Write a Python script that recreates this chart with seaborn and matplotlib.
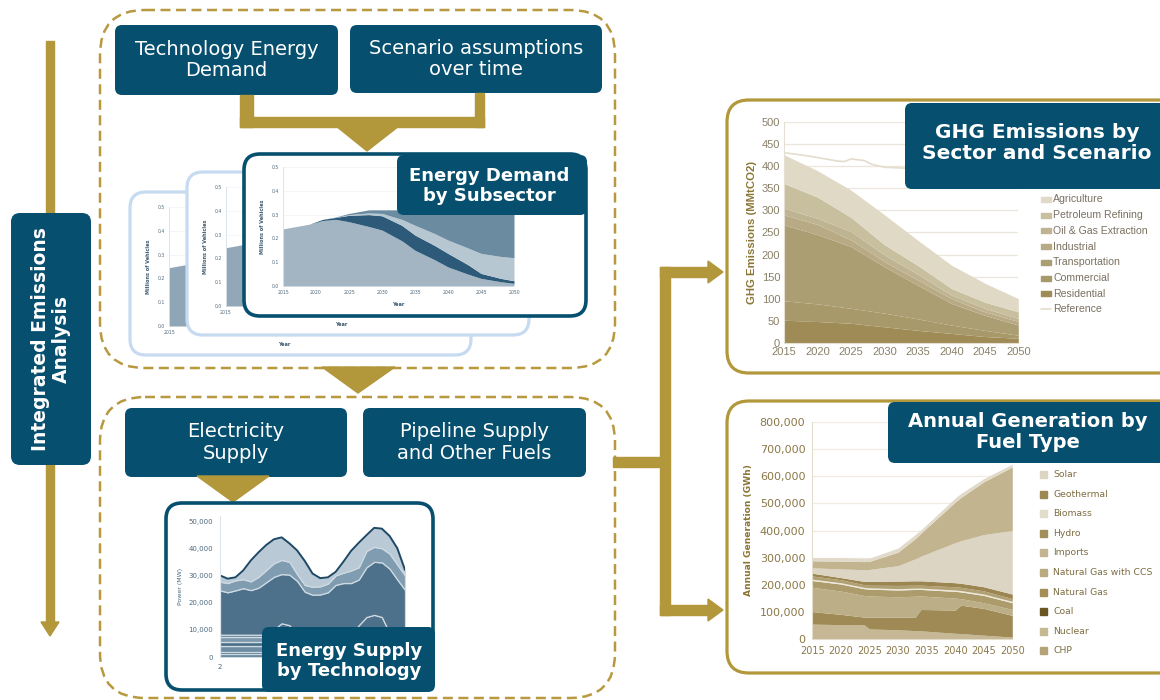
import numpy as np
import matplotlib
matplotlib.use("Agg")
import matplotlib.pyplot as plt
import seaborn as sns
from matplotlib.patches import FancyBboxPatch, Polygon, Rectangle
from matplotlib.ticker import FuncFormatter

# -----------------------------
# data
# -----------------------------
# energy demand by subsector (front card), millions of vehicles
dem_years = [2015, 2017, 2019, 2021, 2023, 2025, 2028, 2030, 2033, 2035, 2038, 2040, 2043, 2045, 2048, 2050]
dem_base = [0.24, 0.25, 0.26, 0.275, 0.28, 0.27, 0.25, 0.235, 0.19, 0.15, 0.11, 0.08, 0.05, 0.032, 0.018, 0.011]
dem_dark = [0, 0, 0, 0.005, 0.008, 0.027, 0.05, 0.06, 0.065, 0.064, 0.06, 0.057, 0.04, 0.021, 0.014, 0.011]
dem_light = [0, 0, 0, 0, 0, 0.003, 0.007, 0.01, 0.025, 0.041, 0.05, 0.056, 0.07, 0.084, 0.092, 0.097]
dem_top = [0, 0, 0, 0, 0.002, 0.005, 0.013, 0.015, 0.04, 0.07, 0.11, 0.137, 0.17, 0.193, 0.2, 0.211]

# the two cards behind it (only the left edge shows)
card_years = [2015, 2018, 2020, 2025, 2030, 2035, 2040, 2045, 2050]
card1_vals = [0.245, 0.26, 0.27, 0.28, 0.27, 0.25, 0.22, 0.2, 0.18]
card2_vals = [0.245, 0.26, 0.27, 0.285, 0.28, 0.26, 0.24, 0.22, 0.2]

# energy supply by technology, MW over two days
sup_hours = list(range(0, 49, 2))
sup_bands = [1200, 800, 1900, 1800, 1500, 1000]
sup_solar = [0, 0, 0, 0, 0, 0, 0, 2000, 4200, 3500, 0, 0, 0,
             0, 0, 0, 0, 0, 3500, 6500, 7300, 6500, 500, 0, 0]
sup_main_top = [24500, 23800, 24500, 25300, 24600, 25500, 27500, 29500, 30500, 30300, 28000, 24000, 22900,
                23000, 23800, 26500, 27200, 27200, 28500, 33000, 35000, 34800, 32500, 28500, 24700]
sup_mid_top = [27700, 27200, 28200, 28600, 27800, 29500, 32000, 34500, 35700, 35000, 30500, 26500, 25800,
               26000, 27000, 30000, 31000, 31800, 33000, 39000, 40500, 40000, 38000, 34000, 30000]
sup_total = [30000, 28800, 29300, 31800, 35500, 38500, 41200, 43300, 44000, 41800, 39200, 35300, 30700,
             29000, 29300, 31300, 35000, 39000, 42000, 44800, 47500, 47200, 44500, 40000, 32000]

# GHG emissions by sector (MMtCO2)
ghg_years = [2015, 2020, 2025, 2030, 2035, 2040, 2045, 2050]
ghg_sectors = ["Residential", "Commercial", "Transportation", "Industrial",
               "Oil & Gas Extraction", "Petroleum Refining", "Agriculture"]
ghg_residential = [51, 48, 44, 36, 28, 21, 14, 10]
ghg_commercial = [44, 40, 34, 31, 26, 19, 14, 7]
ghg_transport = [172, 157, 140, 105, 76, 49, 34, 23]
ghg_industrial = [23, 23, 15, 12, 12, 11, 8, 8]
ghg_oilgas = [15, 14, 19, 15, 13, 8, 8, 7]
ghg_refining = [56, 48, 32, 23, 20, 15, 14, 15]
ghg_agriculture = [65, 60, 62, 68, 57, 53, 43, 30]
ref_years = [2015, 2018, 2020, 2023, 2024, 2025, 2027, 2028, 2030, 2033, 2040, 2050]
ref_vals = [431, 425, 420, 412, 411, 417, 413, 405, 398, 396, 392, 390]

# annual generation by fuel type (GWh), bottom layer first
gen_years = [2015, 2020, 2024, 2025, 2030, 2033, 2034, 2040, 2041, 2045, 2050]
gen_layers = [
    [54000, 52000, 52000, 36000, 33000, 30000, 29000, 20000, 19000, 13000, 6000],
    [46000, 38000, 28000, 44000, 47000, 50000, 79000, 86000, 105000, 99000, 80000],
    [90000, 86000, 80000, 78000, 75000, 77000, 50000, 44000, 24000, 21000, 22000],
    [25000, 26000, 25000, 25000, 25000, 25000, 24000, 25000, 25000, 27000, 25000],
    [5000, 5000, 5000, 5000, 5000, 5000, 5000, 5000, 5000, 5000, 5000],
    [12000, 11000, 10000, 10000, 12000, 11000, 11000, 12000, 12000, 12000, 10000],
    [10000, 8000, 12000, 14000, 16000, 16000, 16000, 15000, 15000, 15000, 17000],
    [20000, 32000, 43000, 44000, 57000, 81000, 91000, 148000, 157000, 193000, 235000],
    [26000, 29000, 30000, 30000, 50000, 75000, 85000, 150000, 160000, 195000, 235000],
    [12000, 13000, 12000, 12000, 15000, 15000, 12000, 15000, 15000, 12000, 10000],
]
gen_legend = ["Solar", "Geothermal", "Biomass", "Hydro", "Imports",
              "Natural Gas with CCS", "Natural Gas", "Coal", "Nuclear", "CHP"]

# -----------------------------
# colours
# -----------------------------
TEAL = "#064f6e"
GOLD = "#b2973b"
DASH = "#b8993f"
dem_colors = ["#a3b5c2", "#2d5a78", "#b7c7d2", "#6b8ba1"]
sup_band_colors = ["#5c7d95", "#3f6681", "#6e8ca1", "#4a6f88", "#7d98ab", "#557892"]
ghg_colors = ["#9f8b55", "#a8996a", "#ab9e72", "#b7aa84", "#bfb491", "#c8bf9f", "#e0d9c5"]
gen_colors = ["#c6b894", "#9f8a55", "#bcae87", "#ad9c6b", "#eee8da",
              "#b1a072", "#9b8651", "#dcd5c3", "#c2b48f", "#e1dacb"]
gen_leg_colors = ["#ddd5c2", "#9c8853", "#e2dccd", "#a38f5b", "#c3b591",
                  "#b9aa80", "#a38e58", "#6a5523", "#c5b893", "#b3a377"]

sns.set_style("white")
plt.rcParams["font.family"] = ["DejaVu Sans"]

W, H = 1160, 700
fig = plt.figure(figsize=(W / 100, H / 100), dpi=100)


def layer(z):
    ax = fig.add_axes([0, 0, 1, 1], zorder=z)
    ax.set_xlim(0, W)
    ax.set_ylim(H, 0)
    ax.axis("off")
    ax.patch.set_visible(False)
    return ax


def box_ax(x0, y0, x1, y1, z):
    return fig.add_axes([x0 / W, 1 - y1 / H, (x1 - x0) / W, (y1 - y0) / H], zorder=z)


def rbox(ax, x0, y0, x1, y1, fc, ec="none", lw=0, r=7, ls="-"):
    ax.add_patch(FancyBboxPatch((x0, y0), x1 - x0, y1 - y0,
                                boxstyle=f"round,pad=0,rounding_size={r}",
                                fc=fc, ec=ec, lw=lw, ls=ls))


def tbox(ax, x0, y0, x1, y1, text, size, bold=False, cx=None, cy=None, r=7, lsp=1.15):
    rbox(ax, x0, y0, x1, y1, TEAL, r=r)
    ax.text((x0 + x1) / 2 if cx is None else cx, (y0 + y1) / 2 if cy is None else cy, text,
            color="white", fontsize=size, fontweight="bold" if bold else "normal",
            ha="center", va="center", linespacing=lsp)


# -----------------------------
# background layer: frames, arrows, boxes
# -----------------------------
base = layer(0)

rbox(base, 100, 10, 615, 368, "none", ec=DASH, lw=1.8, r=45, ls=(0, (4, 2.2)))
rbox(base, 100, 397, 615, 698, "none", ec=DASH, lw=1.8, r=45, ls=(0, (4, 2.2)))

# left timeline arrow
base.add_patch(Rectangle((46, 41), 8, 585, color=GOLD))
base.add_patch(Polygon([(41, 622), (59, 622), (50, 636)], color=GOLD))
rbox(base, 11, 213, 91, 465, TEAL, r=9)
base.text(51, 339, "Integrated Emissions\nAnalysis", rotation=90, color="white",
          fontsize=13.5, fontweight="bold", ha="center", va="center", linespacing=1.1)

# top inputs and connector
tbox(base, 115, 25, 338, 95, "Technology Energy\nDemand", 14)
tbox(base, 350, 25, 602, 93, "Scenario assumptions\nover time", 14)
base.add_patch(Rectangle((240, 95), 13, 32, color=GOLD))
base.add_patch(Rectangle((475, 93), 9, 34, color=GOLD))
base.add_patch(Rectangle((240, 117), 244, 10, color=GOLD))
base.add_patch(Polygon([(336, 126), (399, 126), (367, 151)], color=GOLD))

# link between the two regions
base.add_patch(Polygon([(322, 367), (395, 367), (358, 393)], color=GOLD))

# supply inputs
tbox(base, 125, 408, 347, 477, "Electricity\nSupply", 14)
tbox(base, 363, 408, 586, 477, "Pipeline Supply\nand Other Fuels", 14)
base.add_patch(Polygon([(197, 476), (269, 476), (233, 502)], color=GOLD))

# arrows to the right-hand charts
base.add_patch(Rectangle((613, 457), 52, 10, color=GOLD))
base.add_patch(Rectangle((660, 267), 10, 348, color=GOLD))
for yc in (272, 610):
    base.add_patch(Rectangle((660, yc - 5), 50, 10, color=GOLD))
    base.add_patch(Polygon([(708, yc - 11), (723, yc), (708, yc + 11)], color=GOLD))

rbox(base, 727, 100, 1220, 373, "white", ec=GOLD, lw=2.3, r=22)
rbox(base, 727, 401, 1220, 673, "white", ec=GOLD, lw=2.3, r=22)

# -----------------------------
# energy demand cards
# -----------------------------
def demand_axes(ax):
    ax.set_facecolor("none")
    ax.set_xlim(2015, 2050)
    ax.set_ylim(0, 0.5)
    ax.set_xticks(range(2015, 2051, 5))
    ax.set_yticks(np.arange(0, 0.51, 0.1))
    ax.yaxis.set_major_formatter(FuncFormatter(lambda v, p: f"{v:.1f}"))
    ax.tick_params(labelsize=3.3, colors="#50687a", length=0, pad=3)
    ax.grid(axis="y", color="#eef2f5", lw=0.5)
    ax.set_axisbelow(True)
    sns.despine(ax=ax, bottom=True)
    ax.spines["left"].set_color("#d8e0e6")
    ax.spines["left"].set_linewidth(0.6)
    ax.set_xlabel("Year", fontsize=3.6, fontweight="bold", color="#3d5a70", labelpad=5)
    ax.set_ylabel("Millions of Vehicles", fontsize=3.6, fontweight="bold", color="#3d5a70", labelpad=5)


c1 = layer(1)
rbox(c1, 130, 192, 471, 355, "white", ec="#c6daf0", lw=2.3, r=16)
a1 = box_ax(169, 207, 400, 326, 1.5)
demand_axes(a1)
a1.fill_between(card_years, card1_vals, color="#8fa6b6", lw=0)

c2 = layer(2)
rbox(c2, 187, 172, 529, 335, "white", ec="#c6daf0", lw=2.3, r=16)
a2 = box_ax(226, 187, 457, 306, 2.5)
demand_axes(a2)
a2.fill_between(card_years, card2_vals, color="#92a8b8", lw=0)

c3 = layer(3)
rbox(c3, 244, 154, 586, 316, "white", ec=TEAL, lw=2.6, r=16)
a3 = box_ax(283, 167, 514, 286, 3.5)
demand_axes(a3)
a3.stackplot(dem_years, dem_base, dem_dark, dem_light, dem_top, colors=dem_colors, lw=0)

# -----------------------------
# energy supply card
# -----------------------------
c1.add_patch(FancyBboxPatch((166, 503), 267, 187, boxstyle="round,pad=0,rounding_size=16",
                            fc="white", ec=TEAL, lw=2.6))
sax = box_ax(220, 515.6, 405, 657, 1.5)
sax.set_facecolor("none")
sup_main = [m - sum(sup_bands) - s for m, s in zip(sup_main_top, sup_solar)]
sup_mid = [a - b for a, b in zip(sup_mid_top, sup_main_top)]
sup_light = [a - b for a, b in zip(sup_total, sup_mid_top)]
sup_layers = [[b] * len(sup_hours) for b in sup_bands] + [sup_solar, sup_main, sup_mid, sup_light]
polys = sax.stackplot(sup_hours, *sup_layers,
                      colors=sup_band_colors + ["#4d718a", "#4d718a", "#7f9cb1", "#b9c9d5"])
for p in polys:
    p.set_edgecolor("#cfdae2")
    p.set_linewidth(0.9)
sns.lineplot(x=sup_hours, y=sup_total, ax=sax, color="#1d4966", lw=1.4)
sax.set_xlim(0, 48)
sax.set_ylim(0, 52000)
sax.set_xticks([0])
sax.set_xticklabels(["2"])
sax.set_yticks(range(0, 50001, 10000))
sax.yaxis.set_major_formatter(FuncFormatter(lambda v, p: f"{v:,.0f}"))
sax.tick_params(labelsize=5, colors="#4c6a80", length=0, pad=5)
sns.despine(ax=sax, bottom=True)
sax.spines["left"].set_color("#dde5eb")
sax.set_ylabel("Power (MW)", fontsize=4.5, color="#4c6a80", labelpad=4)

# -----------------------------
# GHG emissions chart
# -----------------------------
gax = box_ax(784.3, 122.3, 1018.3, 342.7, 1.5)
gax.set_facecolor("none")
gax.stackplot(ghg_years, ghg_residential, ghg_commercial, ghg_transport, ghg_industrial,
              ghg_oilgas, ghg_refining, ghg_agriculture, colors=ghg_colors, lw=0)
sns.lineplot(x=ref_years, y=ref_vals, ax=gax, color="#e4ddcc", lw=1.2)
gax.set_xlim(2015, 2050)
gax.set_ylim(0, 500)
gax.set_xticks(range(2015, 2051, 5))
gax.set_yticks(range(0, 501, 50))
gax.grid(axis="y", color="#ece7dc", lw=0.9)
gax.set_axisbelow(True)
sns.despine(ax=gax)
gax.spines["left"].set_color("#e6e0d2")
gax.spines["bottom"].set_color("#e6e0d2")
gax.tick_params(labelsize=8, colors="#8a8068", length=0, pad=3, labelfontfamily="Liberation Sans")
gax.set_ylabel("GHG Emissions (MMtCO2)", fontsize=8.2, fontweight="bold", color="#8c7636",
               family="Liberation Sans", labelpad=3)

# -----------------------------
# annual generation chart
# -----------------------------
nax = box_ax(812.3, 422.3, 1012.3, 638.7, 1.5)
nax.set_facecolor("none")
nax.stackplot(gen_years, *gen_layers, colors=gen_colors, lw=0)
nax.set_xlim(2015, 2050)
nax.set_ylim(0, 800000)
nax.set_xticks(range(2015, 2051, 5))
nax.set_yticks(range(0, 800001, 100000))
nax.yaxis.set_major_formatter(FuncFormatter(lambda v, p: f"{v:,.0f}"))
nax.grid(axis="y", color="#f0ece2", lw=0.9)
nax.set_axisbelow(True)
sns.despine(ax=nax)
nax.spines["left"].set_color("#e2dccb")
nax.spines["bottom"].set_color("#e2dccb")
nax.tick_params(axis="y", labelsize=8, colors="#8a7848", length=3, pad=2)
nax.tick_params(axis="x", labelsize=7, colors="#8a7848", length=3, pad=2)
nax.tick_params(which="both", color="#d8d0bb")
nax.set_ylabel("Annual Generation (GWh)", fontsize=6.6, fontweight="bold", color="#8c7636", labelpad=5)

# -----------------------------
# top layer: titles and legends
# -----------------------------
top = layer(4)
tbox(top, 397, 155, 587, 215, "Energy Demand\nby Subsector", 13, bold=True, cx=489, cy=186)
tbox(top, 262, 627, 435, 692, "Energy Supply\nby Technology", 13, bold=True, cx=349, cy=661)
tbox(top, 905, 103, 1190, 189, "GHG Emissions by\nSector and Scenario", 14.5, bold=True, cx=1037, cy=143)
tbox(top, 888, 402, 1190, 463, "Annual Generation by\nFuel Type", 14, bold=True, cx=1028, cy=432)

# GHG legend (top entry = top layer)
for i, name in enumerate(ghg_sectors[::-1]):
    yc = 199.5 + i * 15.7
    top.add_patch(Rectangle((1041, yc - 2.5), 10, 5, color=ghg_colors[::-1][i]))
    top.text(1053, yc, name, fontsize=7.6, color="#7a7060", va="center", family="Liberation Sans")
yc = 199.5 + 7 * 15.7
top.plot([1041, 1051], [yc, yc], color="#e4ddcc", lw=1.2)
top.text(1053, yc, "Reference", fontsize=7.6, color="#7a7060", va="center", family="Liberation Sans")

# generation legend
for i, name in enumerate(gen_legend):
    yc = 474.5 + i * 19.6
    top.add_patch(Rectangle((1040, yc - 3.5), 7, 7, color=gen_leg_colors[i]))
    top.text(1053, yc, name, fontsize=6.7, color="#7d6d42", va="center")

fig.savefig("out.png", dpi=100)
